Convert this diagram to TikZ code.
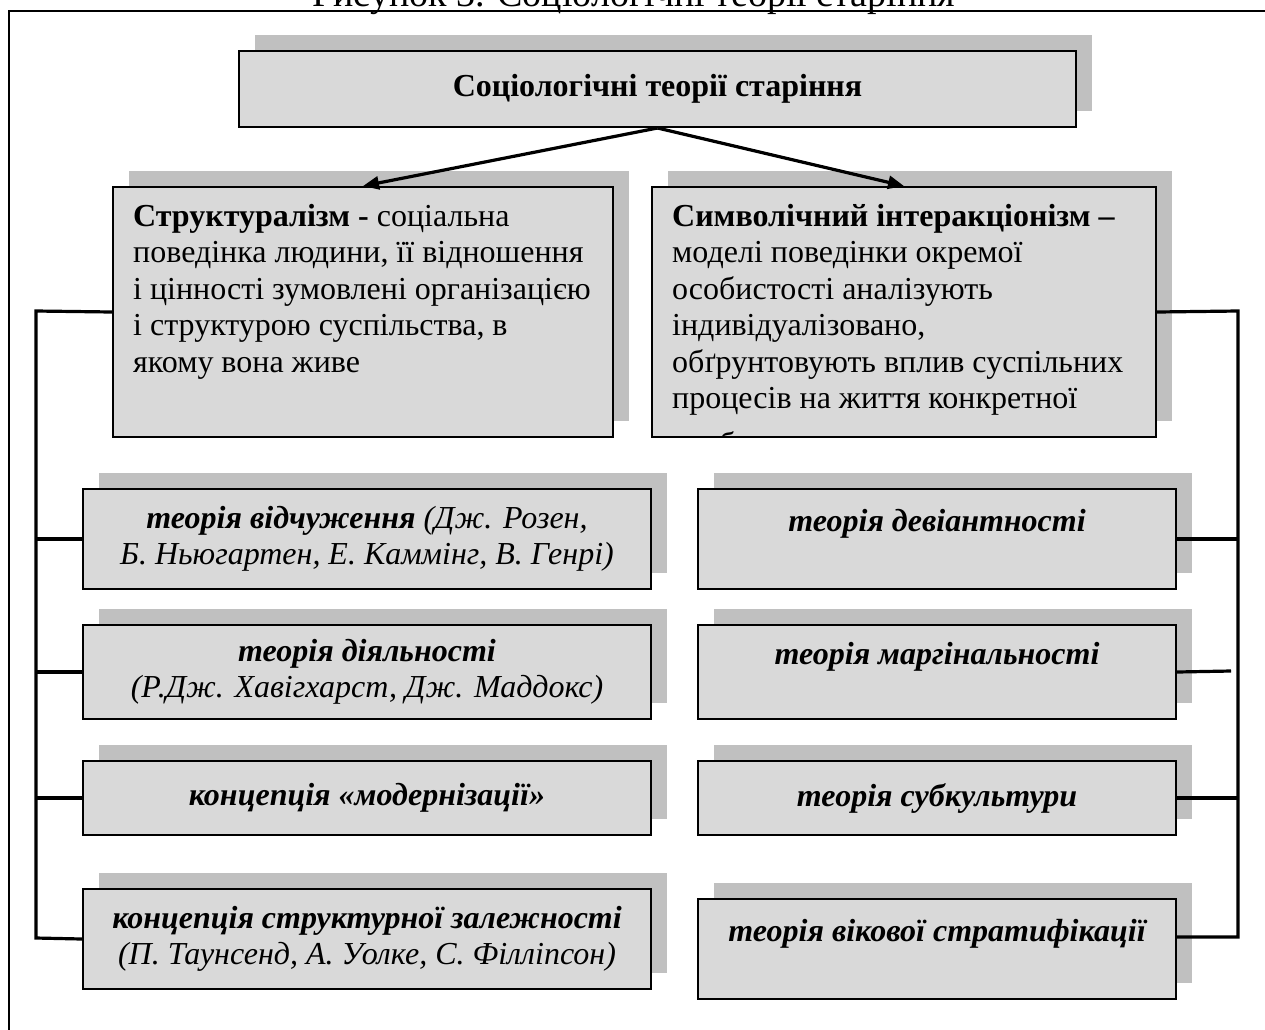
\documentclass[tikz,border=0pt]{standalone}
\usepackage{fontspec}
\setmainfont{Liberation Serif}
\usetikzlibrary{arrows.meta,shadows}
\definecolor{boxgray}{RGB}{217,217,217}
\definecolor{shgray}{RGB}{192,192,192}
\begin{document}
\begin{tikzpicture}[x=1pt,y=-1pt,
  box/.style={draw=black,line width=2pt,fill=boxgray,anchor=north west,inner sep=0pt,
    drop shadow={shadow xshift=16pt,shadow yshift=16pt,opacity=1,fill=shgray},
    font=\fontsize{32}{36.5}\selectfont, align=center},
  ibox/.style={box,font=\fontsize{32}{36.5}\selectfont\itshape},
  conn/.style={line width=3.2pt,draw=black},
  arr/.style={conn,-{Triangle[length=16pt,width=13pt]}},
  body/.style={anchor=north west,inner sep=0pt,align=left,font=\fontsize{32}{36.5}\selectfont},
  ]
\useasboundingbox (0,0) rectangle (1265,1029);
% outer frame
\draw[line width=2.4pt] (9,1040) -- (9,11) -- (1275,11);
% cut title
\node[anchor=base west,inner sep=0pt,font=\fontsize{38}{44}\selectfont] (title) at (312,6) {Рисунок 3. Соціологічні теорії старіння};
% top box
\node[box,minimum width=837pt,minimum height=76pt,font=\fontsize{32}{36.5}\selectfont\bfseries] (top) at (238,50) {Соціологічні теорії старіння};
% two main boxes
\node[box,minimum width=500pt,minimum height=250pt] (struct) at (112,186) {};
\node[box,minimum width=504pt,minimum height=250pt] (symb) at (651,186) {};
\node[body] (structtext) at (133,198) {\rule{0pt}{28pt}\textbf{Структуралізм -} соціальна\\
поведінка людини, її відношення\\
і цінності зумовлені організацією\\
і структурою суспільства, в\\
якому вона живе};
\begin{scope}
\clip (652,187) rectangle (1154,435);
\node[body] (symbtext) at (672,198) {\rule{0pt}{28pt}\textbf{Символічний інтеракціонізм –}\\
моделі поведінки окремої\\
особистості аналізують\\
індивідуалізовано,\\
обґрунтовують вплив суспільних\\
процесів на життя конкретної\\[9pt]
особи};
\end{scope}
% arrows
\draw[arr] (top.south) -- (struct.north);
\draw[arr] (top.south) -- (symb.north);
% left column
\node[ibox,minimum width=568pt,minimum height=100pt] (l1) at (82,488) {\textbf{теорія відчуження} (Дж. Розен,\\Б. Ньюгартен, Е. Каммінг, В. Генрі)};
\node[ibox,minimum width=568pt,minimum height=94pt] (l2) at (82,624) {\textbf{теорія діяльності}\\(Р.Дж. Хавігхарст, Дж. Маддокс)};
\node[ibox,minimum width=568pt,minimum height=74pt] (l3) at (82,760) {\textbf{концепція «модернізації»}};
\node[ibox,minimum width=568pt,minimum height=100pt] (l4) at (82,888) {\textbf{концепція структурної залежності}\\(П. Таунсенд, А. Уолке, С. Філліпсон)};
% right column
\node[ibox,minimum width=478pt,minimum height=100pt] (r1) at (697,488) {\textbf{теорія девіантності}\\\mbox{}};
\node[ibox,minimum width=478pt,minimum height=94pt] (r2) at (697,624) {\textbf{теорія маргінальності}\\\mbox{}};
\node[ibox,minimum width=478pt,minimum height=74pt] (r3) at (697,760) {\textbf{теорія субкультури}};
\node[ibox,minimum width=478pt,minimum height=100pt] (r4) at (697,898) {\textbf{теорія вікової стратифікації}\\\mbox{}};
% left bus
\coordinate (lbtop) at (36,311);
\coordinate (lbbot) at (36,938);
\draw[conn] (struct.west) -- (lbtop) -- (lbbot) -- (l4.west);
\draw[conn] (l1.west) -- (l1.west -| lbtop);
\draw[conn] (l2.west) -- (l2.west -| lbtop);
\draw[conn] (l3.west) -- (l3.west -| lbtop);
% right bus
\coordinate (rbtop) at (1238,311);
\coordinate (rbbot) at (1238,937);
\coordinate (r2end) at (1231,671);
\draw[conn] (symb.east) -- (rbtop) -- (rbbot) -- (rbbot -| r4.east);
\draw[conn] (r1.east) -- (r1.east -| rbtop);
\draw[conn] (r2.east) -- (r2end);
\draw[conn] (r3.east) -- (r3.east -| rbtop);
\end{tikzpicture}
\end{document}
